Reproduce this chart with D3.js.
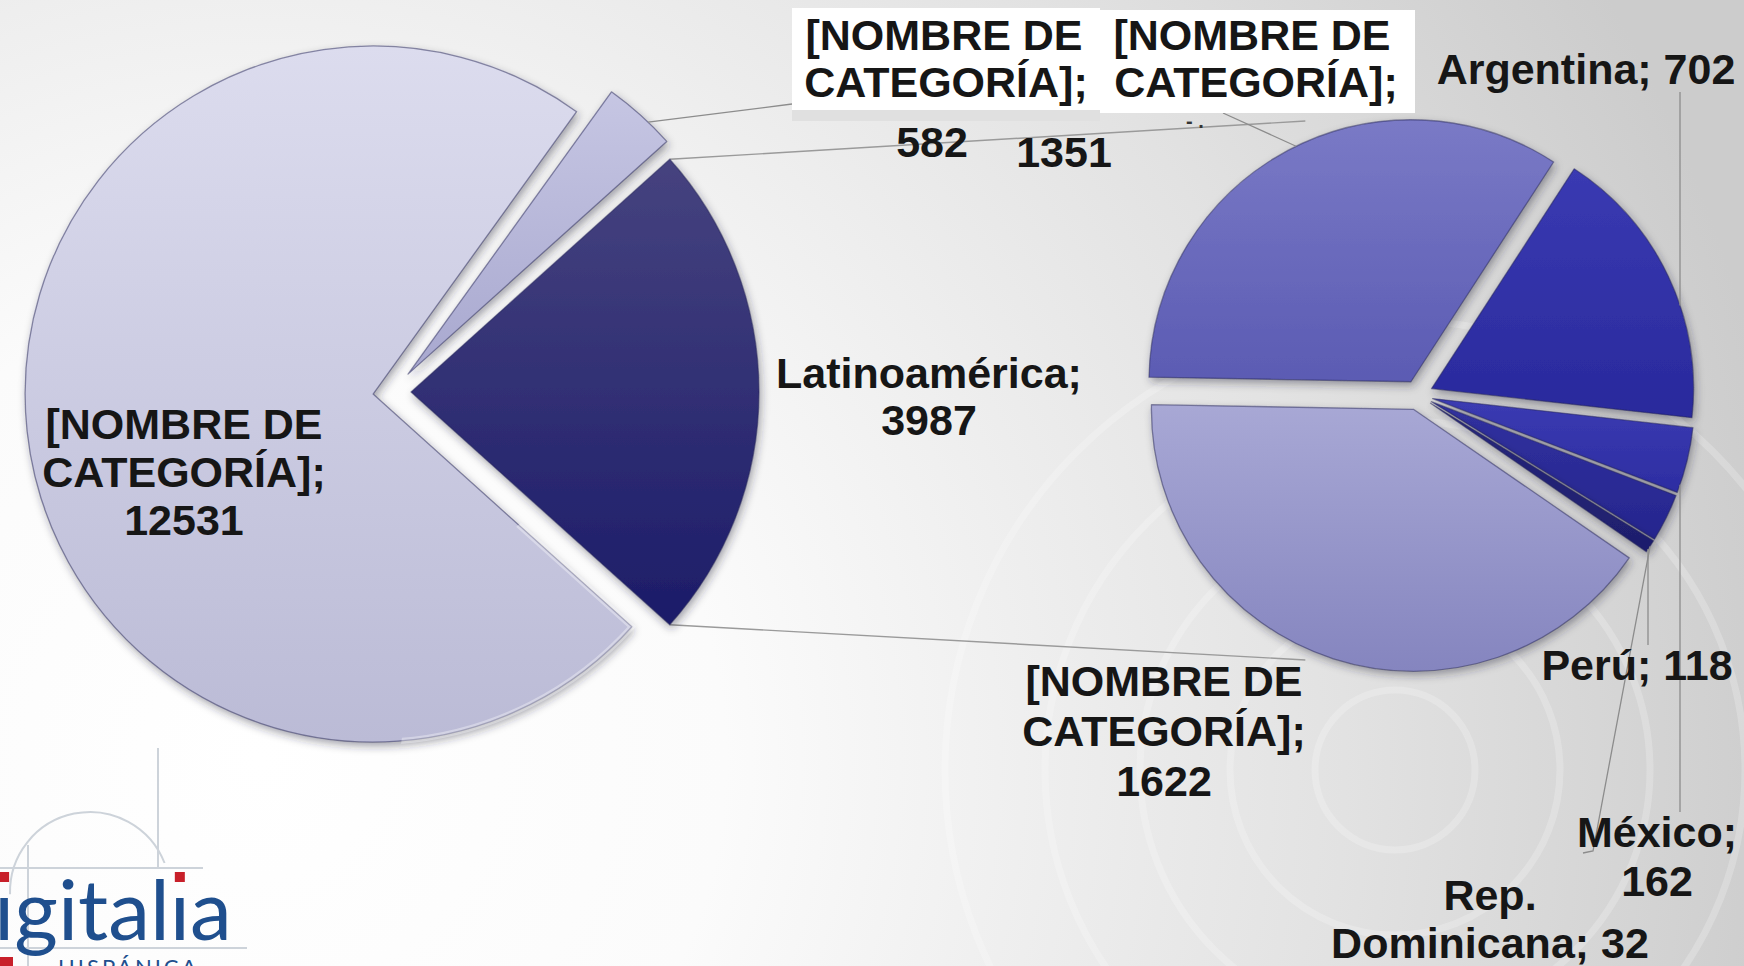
<!DOCTYPE html>
<html>
<head>
<meta charset="utf-8">
<script src="https://cdn.jsdelivr.net/npm/d3@7"></script>
<style>
html, body { margin: 0; padding: 0; overflow: hidden; background: #fff; }
.lbl { font-family: "Liberation Sans", Arial, sans-serif; font-weight: bold; font-size: 43px; fill: #161616; }
</style>
</head>
<body>
<div id="chart"></div>
<script>
// main pie, clockwise from the split slice
var mainNames = ["Latinoamérica", "[NOMBRE DE CATEGORÍA]", "[NOMBRE DE CATEGORÍA]"];
var mainValues = [3987, 12531, 582];
// secondary pie (breakdown of Latinoamérica), clockwise
var subNames = ["[NOMBRE DE CATEGORÍA]", "Argentina", "México", "Perú", "Rep. Dominicana", "[NOMBRE DE CATEGORÍA]"];
var subValues = [1351, 702, 162, 118, 32, 1622];

var W = 1744, H = 966;
var mainColors = [["#46437f", "#1c1c69"], ["#dcdcee", "#bbbbd6"], ["#c6c6e3", "#a8a8cf"]];
var subColors = [["#7a7ac6", "#5b5bb3"], ["#3a3ab2", "#29299c"], ["#3b3bb2", "#2d2da2"],
                 ["#31319f", "#26268e"], ["#28287e", "#1e1e6c"], ["#a8a8d5", "#8585bf"]];

var mainGeo = {cx: 392, cy: 392, r: 348, explode: [19, 19, 24]};
var subGeo = {cx: 1418, cy: 395, r: 262, explode: 15, startDeg: 181};

// label layout: word groups per line, x per line, baselines
var mainLabelPos = [
    {groups: [1, 1], x: [929, 929], y: [388, 435]},
    {groups: [2, 1, 1], x: [184, 184, 184], y: [439, 487, 535]},
    {groups: [2, 1, 1], x: [944, 946, 932], y: [50, 97, 157], box: [792, 8, 308, 102]}
];
var subLabelPos = [
    {groups: [2, 1, 1], x: [1252, 1256, 1064], y: [50, 97, 167], box: [1100, 10, 315, 103]},
    {groups: [2], x: [1586], y: [84]},
    {groups: [1, 1], x: [1657, 1657], y: [847, 896]},
    {groups: [2], x: [1637], y: [680]},
    {groups: [1, 2], x: [1490, 1490], y: [910, 958]},
    {groups: [2, 1, 1], x: [1164, 1164, 1164], y: [696, 746, 796]}
];

var svg = d3.select("#chart").append("svg")
    .attr("width", W)
    .attr("height", H);

var defs = svg.append("defs");

var bg = defs.append("radialGradient").attr("id", "bg")
    .attr("gradientUnits", "userSpaceOnUse")
    .attr("cx", 260).attr("cy", 760).attr("r", 1550);
bg.append("stop").attr("offset", "0").attr("stop-color", "#ffffff");
bg.append("stop").attr("offset", "0.3").attr("stop-color", "#fbfbfb");
bg.append("stop").attr("offset", "0.7").attr("stop-color", "#e2e2e2");
bg.append("stop").attr("offset", "1").attr("stop-color", "#cccccc");

var shadow = defs.append("filter").attr("id", "shadow")
    .attr("x", "-20%").attr("y", "-20%").attr("width", "140%").attr("height", "140%");
shadow.append("feDropShadow")
    .attr("dx", 2).attr("dy", 4).attr("stdDeviation", 4)
    .attr("flood-color", "#20203a").attr("flood-opacity", 0.4);

function addGrad(id, c) {
    var g = defs.append("linearGradient").attr("id", id)
        .attr("x1", 0).attr("y1", 0).attr("x2", 0).attr("y2", 1);
    g.append("stop").attr("offset", "0").attr("stop-color", c[0]);
    g.append("stop").attr("offset", "1").attr("stop-color", c[1]);
}
mainColors.forEach((c, i) => addGrad("gm" + i, c));
subColors.forEach((c, i) => addGrad("gs" + i, c));

svg.append("rect").attr("width", W).attr("height", H).attr("fill", "url(#bg)");

// faint rings of the slide background
var rings = svg.append("g").attr("fill", "none").attr("stroke", "#ffffff").attr("stroke-opacity", 0.22);
[80, 165, 255, 350, 450].forEach(function(rr) {
    rings.append("circle").attr("cx", 1395).attr("cy", 770).attr("r", rr).attr("stroke-width", 7);
});

// logo, bottom left
var logo = svg.append("g");
logo.append("line").attr("x1", 158).attr("y1", 748).attr("x2", 158).attr("y2", 868);
logo.append("line").attr("x1", 28).attr("y1", 845).attr("x2", 28).attr("y2", 966);
logo.append("line").attr("x1", 0).attr("y1", 868).attr("x2", 203).attr("y2", 868);
logo.append("line").attr("x1", 0).attr("y1", 948).attr("x2", 247).attr("y2", 948);
logo.append("path").attr("d", d3.arc()({innerRadius: 80, outerRadius: 80, startAngle: -1.6, endAngle: 1.2}))
    .attr("transform", "translate(90,892)");
logo.selectAll("line, path").attr("stroke", "#cdd3da").attr("stroke-width", 2).attr("fill", "none");
var logoText = logo.append("text")
    .attr("x", -6).attr("y", 940)
    .style("font-family", "Lato, 'Open Sans', sans-serif")
    .style("font-size", "84px")
    .attr("fill", "#1f4f8e")
    .text("ıgitalıa");
[0, 6].forEach(function(k) {
    var a = logoText.node().getStartPositionOfChar(k).x;
    var b = logoText.node().getEndPositionOfChar(k).x;
    logo.append("rect").attr("x", (a + b) / 2 - 5).attr("y", 872).attr("width", 10).attr("height", 10)
        .attr("fill", "#c8202a");
});
logo.append("text").attr("x", 58).attr("y", 975)
    .style("font-family", "Lato, sans-serif").style("font-size", "22px").style("letter-spacing", "3px")
    .attr("fill", "#1f4f8e").text("HISPÁNICA");
logo.append("rect").attr("x", 0).attr("y", 957).attr("width", 13).attr("height", 9).attr("fill", "#c8202a");

// pies
var mainTotal = d3.sum(mainValues);
var splitAngle = mainValues[0] / mainTotal * 2 * Math.PI;
var mainStart = Math.PI / 2 - splitAngle / 2;
var mainPie = d3.pie().sort(null).value(d => d)
    .startAngle(mainStart).endAngle(mainStart + 2 * Math.PI);
var subStart = (subGeo.startDeg + 90) * Math.PI / 180;
var subPie = d3.pie().sort(null).value(d => d)
    .startAngle(subStart).endAngle(subStart + 2 * Math.PI);

var mainArcs = mainPie(mainValues);
var subArcs = subPie(subValues);

function polar(c, a, r) { return [c[0] + r * Math.sin(a), c[1] - r * Math.cos(a)]; }
function sliceCenter(geo, d, ex) {
    var mid = (d.startAngle + d.endAngle) / 2;
    return polar([geo.cx, geo.cy], mid, ex);
}
mainArcs.forEach((d, i) => { d.c = sliceCenter(mainGeo, d, mainGeo.explode[i]); });
subArcs.forEach(d => { d.c = sliceCenter(subGeo, d, subGeo.explode); });

// connector lines between the pies
var split = mainArcs[0];
var topA = polar(split.c, split.startAngle, mainGeo.r);
var botA = polar(split.c, split.endAngle, mainGeo.r);
var connectors = [
    [topA, [subGeo.cx - 0.43 * subGeo.r, subGeo.cy - subGeo.r - 12]],
    [botA, [subGeo.cx - 0.43 * subGeo.r, subGeo.cy + subGeo.r + 3]]
];
svg.append("g").selectAll("line").data(connectors).enter().append("line")
    .attr("x1", d => d[0][0]).attr("y1", d => d[0][1])
    .attr("x2", d => d[1][0]).attr("y2", d => d[1][1])
    .attr("stroke", "#9a9a9a").attr("stroke-width", 1.4);

function drawPie(arcs, geo, prefix) {
    var arc = d3.arc().innerRadius(0).outerRadius(geo.r);
    var g = svg.append("g");
    arcs.forEach(function(d, i) {
        defs.append("clipPath").attr("id", "clip" + prefix + i)
            .append("path").attr("d", arc(d))
            .attr("transform", "translate(" + d.c[0] + "," + d.c[1] + ")");
    });
    g.selectAll("path.slice").data(arcs).enter().append("path")
        .attr("class", "slice")
        .attr("transform", d => "translate(" + d.c[0] + "," + d.c[1] + ")")
        .attr("d", arc)
        .attr("fill", (d, i) => "url(#" + prefix + i + ")")
        .attr("stroke", "rgba(40,40,90,0.5)")
        .attr("stroke-width", 1.3)
        .attr("stroke-linejoin", "round")
        .attr("filter", "url(#shadow)");
    // soft bevel highlight along the inside of each slice edge
    g.selectAll("path.bevel").data(arcs).enter().append("path")
        .attr("class", "bevel")
        .attr("transform", d => "translate(" + d.c[0] + "," + d.c[1] + ")")
        .attr("d", arc)
        .attr("fill", "none")
        .attr("stroke", "rgba(255,255,255,0.35)")
        .attr("stroke-width", 6)
        .attr("clip-path", (d, i) => "url(#clip" + prefix + i + ")");
}
drawPie(mainArcs, mainGeo, "gm");
drawPie(subArcs, subGeo, "gs");

// leader lines
function arcYAtX(d, r, x, sign) {
    var dx = x - d.c[0];
    return d.c[1] + sign * Math.sqrt(r * r - dx * dx);
}
var m582 = mainArcs[2];
var s1351 = subArcs[0];
var leaders = [
    [polar(m582.c, (m582.startAngle + m582.endAngle) / 2 + 0.03, mainGeo.r), [792, 104]],
    [[1223, 113], polar(s1351.c, -26 * Math.PI / 180, subGeo.r)],
    [[1680, 92], [1680, arcYAtX(subArcs[1], subGeo.r, 1680, -1)]],
    [[1680, arcYAtX(subArcs[2], subGeo.r, 1680, 1)], [1680, 812]],
    [[1648, arcYAtX(subArcs[3], subGeo.r, 1648, 1)], [1648, 645]],
    [polar(subArcs[4].c, (subArcs[4].startAngle + subArcs[4].endAngle) / 2, subGeo.r), [1593, 851], [1583, 853]]
];
svg.append("g").selectAll("path").data(leaders).enter().append("path")
    .attr("d", d3.line())
    .attr("fill", "none")
    .attr("stroke", "#8c8c8c")
    .attr("stroke-width", 1.3);

// labels
function drawLabels(names, values, pos) {
    var g = svg.append("g");
    pos.forEach(function(p, i) {
        if (p.box) {
            g.append("rect").attr("x", p.box[0]).attr("y", p.box[1])
                .attr("width", p.box[2]).attr("height", p.box[3]).attr("fill", "#ffffff");
        }
    });
    pos.forEach(function(p, i) {
        var words = (names[i] + "; " + values[i]).split(" ");
        var k = 0;
        p.groups.forEach(function(n, j) {
            g.append("text").attr("class", "lbl")
                .attr("x", p.x[j]).attr("y", p.y[j])
                .attr("text-anchor", "middle")
                .text(words.slice(k, k + n).join(" "));
            k += n;
        });
    });
}
svg.append("rect").attr("x", 792).attr("y", 110).attr("width", 308).attr("height", 11).attr("fill", "#e0e0e0");
drawLabels(mainNames, mainValues, mainLabelPos);
drawLabels(subNames, subValues, subLabelPos);

svg.append("text").attr("x", 1186).attr("y", 128)
    .style("font-family", "Liberation Sans, Arial, sans-serif").style("font-size", "20px")
    .style("font-weight", "bold").attr("fill", "#333").text("- .");
</script>
</body>
</html>
